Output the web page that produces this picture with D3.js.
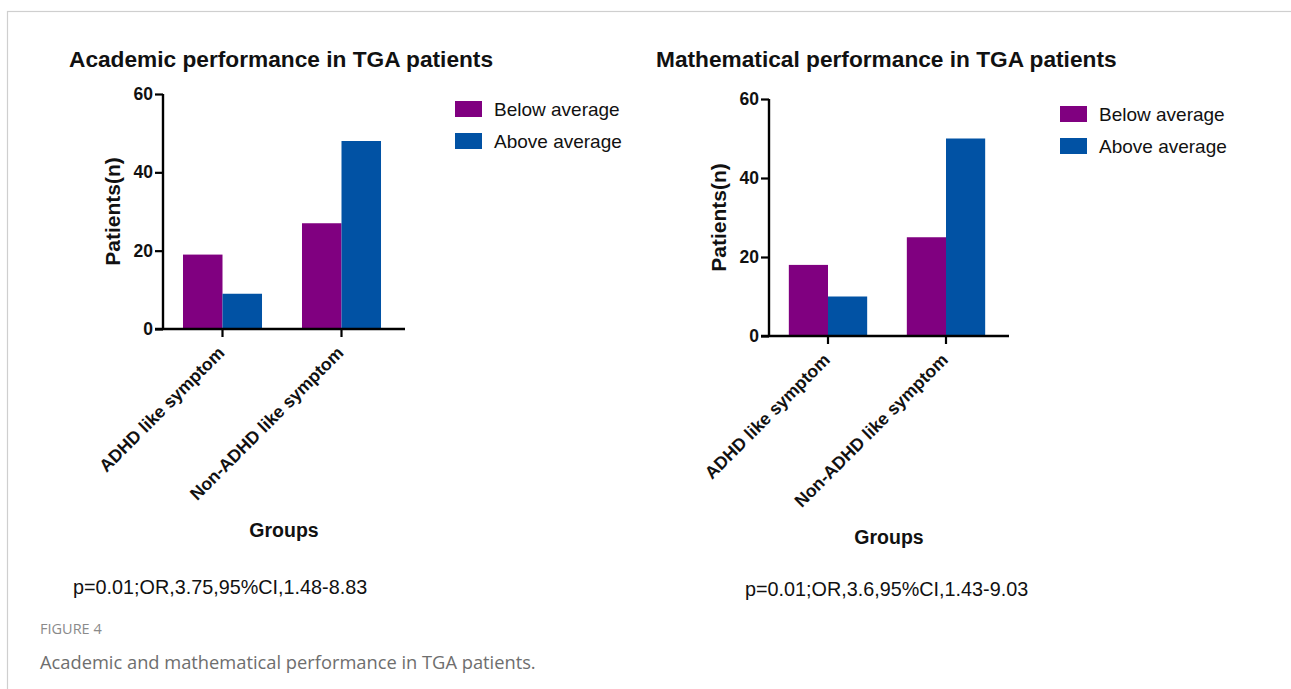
<html>
<head>
<style>
    body { margin: 0; background: #fff; }
</style>
</head>
<body>
    <svg id="fig"></svg>
</body>
<script src="https://cdnjs.cloudflare.com/ajax/libs/d3/7.8.5/d3.min.js"></script>
<script>
    const groups = ["ADHD like symptom", "Non-ADHD like symptom"];
    const series = ["Below average", "Above average"];
    const colors = ["#800080", "#0152a4"];
    const yTicks = [0, 20, 40, 60];

    // values per group: [below, above]
    const academic = [[19, 9], [27, 48]];
    const mathematical = [[18, 10], [25, 50]];

    const titles = ["Academic performance in TGA patients", "Mathematical performance in TGA patients"];
    const stats = ["p=0.01;OR,3.75,95%CI,1.48-8.83", "p=0.01;OR,3.6,95%CI,1.43-9.03"];

    const width = 1291,
        height = 689;
    const sans = '"Liberation Sans", Arial, sans-serif';

    const svg = d3.select('#fig')
        .attr('width', width)
        .attr('height', height)
        .attr('font-family', sans);

    // page frame
    svg.append('rect')
        .attr('x', 7.5).attr('y', 11.5)
        .attr('width', width + 10).attr('height', height + 10)
        .attr('fill', 'none').attr('stroke', '#cfcfcf').attr('stroke-width', 1.2);

    function drawChart(opts) {
        const g = svg.append('g');

        const y = d3.scaleLinear().domain([0, 60]).range([opts.y0, opts.y60]);
        const x0 = d3.scaleBand()
            .domain(groups)
            .range([opts.left, opts.left + opts.span])
            .paddingInner(0.336)
            .paddingOuter(0.168);
        const x1 = d3.scaleBand().domain(series).range([0, x0.bandwidth()]);

        g.append('text')
            .attr('x', opts.titleX).attr('y', 67)
            .attr('font-size', 22.7).attr('font-weight', 'bold').attr('fill', '#111')
            .text(opts.title);

        // bars
        g.append('g')
            .selectAll('g')
            .data(opts.data)
            .enter().append('g')
            .attr('transform', (d, i) => `translate(${x0(groups[i])},0)`)
            .selectAll('rect')
            .data(d => d)
            .enter().append('rect')
            .attr('x', (d, j) => x1(series[j]))
            .attr('width', x1.bandwidth())
            .attr('y', d => y(d))
            .attr('height', d => y(0) - y(d))
            .attr('fill', (d, j) => colors[j]);

        // y axis
        const yAxis = g.append('g')
            .attr('transform', `translate(${opts.left},0)`)
            .call(d3.axisLeft(y).tickValues(yTicks).tickSize(8).tickPadding(2));
        yAxis.select('.domain').attr('stroke-width', 2.4).attr('d', `M0,${opts.y0}V${opts.y60}`);
        yAxis.selectAll('.tick line').attr('stroke-width', 2.2);
        yAxis.selectAll('.tick text')
            .attr('font-size', 17.5).attr('font-weight', 'bold').attr('fill', '#111')
            .attr('font-family', sans);

        // x axis
        const xAxis = g.append('g')
            .attr('transform', `translate(0,${opts.y0})`)
            .call(d3.axisBottom(x0).tickSize(8).tickSizeOuter(0));
        xAxis.select('.domain').attr('stroke-width', 2.4)
            .attr('d', `M${opts.left - 8},0H${opts.left + opts.span + 4}`);
        xAxis.selectAll('.tick line').attr('stroke-width', 2.2);
        xAxis.selectAll('.tick text')
            .attr('font-size', 17.6).attr('font-weight', 'bold').attr('fill', '#111')
            .attr('font-family', sans)
            .attr('text-anchor', 'end')
            .attr('dy', null).attr('y', null)
            .attr('transform', 'translate(3,25) rotate(-45)');

        // axis titles
        g.append('text')
            .attr('transform', `translate(${opts.left - 43},${(opts.y0 + opts.y60) / 2}) rotate(-90)`)
            .attr('text-anchor', 'middle')
            .attr('font-size', 21).attr('font-weight', 'bold').attr('fill', '#111')
            .text('Patients(n)');

        g.append('text')
            .attr('x', opts.left + opts.span / 2 + 2).attr('y', opts.y0 + 208)
            .attr('text-anchor', 'middle')
            .attr('font-size', 19.5).attr('font-weight', 'bold').attr('fill', '#111')
            .text('Groups');

        // legend
        const legend = g.append('g')
            .selectAll('g')
            .data(series)
            .enter().append('g')
            .attr('transform', (d, i) => `translate(${opts.legendX},${opts.y60 + 7 + i * 32})`);
        legend.append('rect')
            .attr('width', 27).attr('height', 16)
            .attr('fill', (d, i) => colors[i]);
        legend.append('text')
            .attr('x', 39).attr('y', 14.5)
            .attr('font-size', 19).attr('fill', '#111')
            .text(d => d);

        g.append('text')
            .attr('x', opts.statX).attr('y', opts.statY)
            .attr('font-size', 19.8).attr('fill', '#111')
            .text(opts.stat);
    }

    drawChart({
        data: academic, title: titles[0], stat: stats[0],
        left: 163, span: 238, y0: 329, y60: 94,
        titleX: 69, legendX: 455, statX: 73, statY: 594
    });

    drawChart({
        data: mathematical, title: titles[1], stat: stats[1],
        left: 769, span: 236, y0: 336, y60: 99,
        titleX: 656, legendX: 1060, statX: 745, statY: 596
    });

    // caption
    svg.append('text')
        .attr('x', 40).attr('y', 634)
        .style('font-family', '"Open Sans", sans-serif')
        .attr('font-size', 14.5).attr('fill', '#8a8a8a')
        .text('FIGURE 4');
    svg.append('text')
        .attr('x', 40).attr('y', 669)
        .style('font-family', '"Open Sans", sans-serif')
        .attr('font-size', 18.3).attr('fill', '#6e6e6e')
        .text('Academic and mathematical performance in TGA patients.');
</script>
</html>
